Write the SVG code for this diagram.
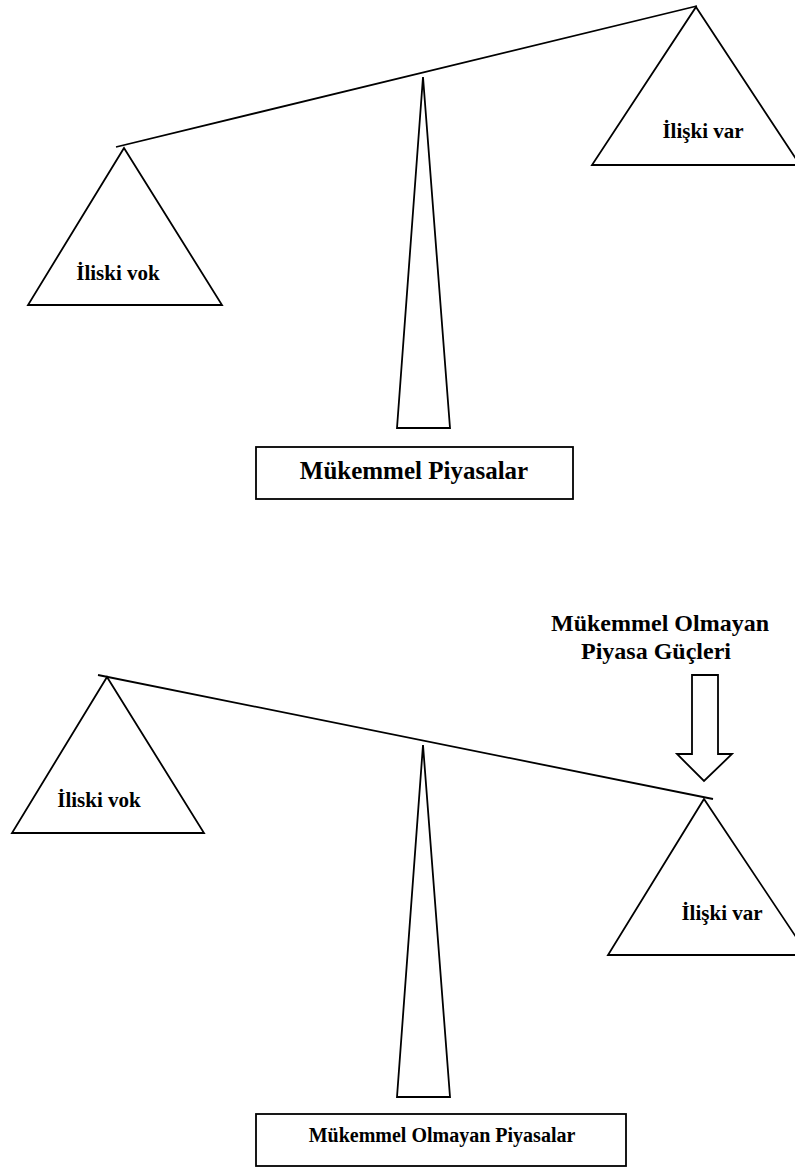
<svg xmlns="http://www.w3.org/2000/svg" width="795" height="1167" viewBox="0 0 795 1167">
<style>
.s{fill:#fff;stroke:#000;stroke-width:1.8;stroke-linejoin:miter}
.l{fill:none;stroke:#000;stroke-width:1.8}
.t{font-family:"Liberation Serif","Times New Roman",serif;font-weight:bold;fill:#000;text-anchor:middle}
</style>
<rect width="795" height="1167" fill="#fff"/>
<g id="connectors">
<line class="l" x1="116" y1="147" x2="697" y2="6"/>
<line class="l" x1="98" y1="675" x2="713" y2="799"/>
</g>
<g id="top-fulcrum"><polygon class="s" points="423,77 450,428 397,428"/></g>
<g id="top-left"><polygon class="s" points="124,148 222,305 28,305"/><text class="t" x="118" y="280" font-size="21">İliski vok</text></g>
<g id="top-right"><polygon class="s" points="696,7 800,165 592,165"/><text class="t" x="703" y="138" font-size="21">İlişki var</text></g>
<g id="top-box"><rect class="s" x="256" y="447" width="317" height="52"/><text class="t" x="414" y="479" font-size="25">Mükemmel Piyasalar</text></g>
<g id="header"><text class="t" x="660" y="631" font-size="24">Mükemmel Olmayan</text><text class="t" x="656" y="659" font-size="24">Piyasa Güçleri</text></g>
<g id="arrow"><polygon class="s" points="692,675 718,675 718,754 732,754 704,781 677,754 692,754"/></g>
<g id="bottom-fulcrum"><polygon class="s" points="423,745 450,1097 397,1097"/></g>
<g id="bottom-left"><polygon class="s" points="107,677 204,833 12,833"/><text class="t" x="99" y="807" font-size="21">İliski vok</text></g>
<g id="bottom-right"><polygon class="s" points="704,799 808,955 608,955"/><text class="t" x="722" y="920" font-size="21">İlişki var</text></g>
<g id="bottom-box"><rect class="s" x="256" y="1114" width="370" height="52"/><text class="t" x="442" y="1142" font-size="20">Mükemmel Olmayan Piyasalar</text></g>
</svg>
